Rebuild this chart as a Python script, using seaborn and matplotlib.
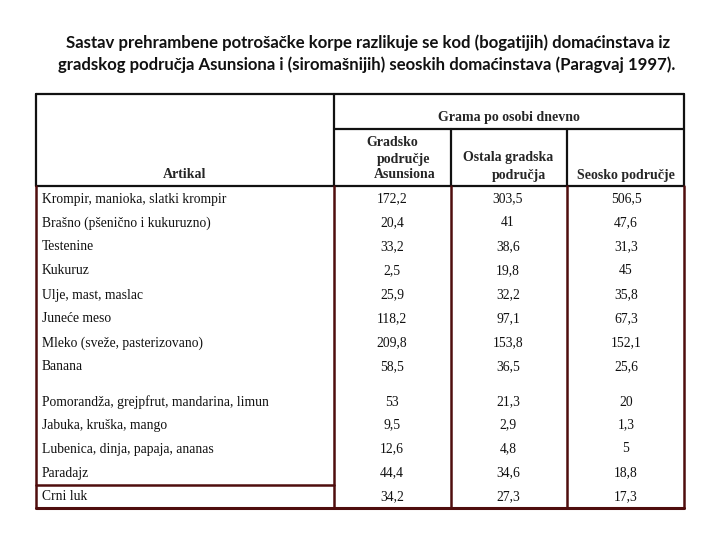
import numpy as np
import matplotlib
matplotlib.use("Agg")
import matplotlib.pyplot as plt
import seaborn as sns

# Data
title_lines = [
    "Sastav prehrambene potrošačke korpe razlikuje se kod (bogatijih) domaćinstava iz",
    "gradskog područja Asunsiona i (siromašnijih) seoskih domaćinstava (Paragvaj 1997).",
]
group_header = "Grama po osobi dnevno"
row_header = "Artikal"
articles = [
    "Krompir, manioka, slatki krompir",
    "Brašno (pšenično i kukuruzno)",
    "Testenine",
    "Kukuruz",
    "Ulje, mast, maslac",
    "Juneće meso",
    "Mleko (sveže, pasterizovano)",
    "Banana",
    "Pomorandža, grejpfrut, mandarina, limun",
    "Jabuka, kruška, mango",
    "Lubenica, dinja, papaja, ananas",
    "Paradajz",
    "Crni luk",
]
gradsko_asunsion = [172.2, 20.4, 33.2, 2.5, 25.9, 118.2, 209.8, 58.5, 53, 9.5, 12.6, 44.4, 34.2]
ostala_gradska = [303.5, 41, 38.6, 19.8, 32.2, 97.1, 153.8, 36.5, 21.3, 2.9, 4.8, 34.6, 27.3]
seosko = [506.5, 47.6, 31.3, 45, 35.8, 67.3, 152.1, 25.6, 20, 1.3, 5, 18.8, 17.3]

# Layout (pixels)
row_y = [199, 223, 247, 271, 295, 319, 343, 367, 402, 425, 449, 473, 497]
col_x = [392, 508, 626]
x_left, x_c1, x_c2, x_c3, x_right = 36, 334, 451, 567, 684
y_top, y_grp, y_head, y_bot = 94, 129, 186, 508
y_last = 485
head_col = "#111111"
body_col = "#4f0d0d"


def fmt(v):
    s = f"{v:.1f}".rstrip("0").rstrip(".")
    return s.replace(".", ",")


sns.set_theme(style="white")
plt.rcParams['font.family'] = ['Liberation Serif', 'DejaVu Serif']

fig = plt.figure(figsize=(7.2, 5.4), dpi=100)
ax = fig.add_axes([0, 0, 1, 1])
ax.set_xlim(0, 720)
ax.set_ylim(540, 0)
ax.axis("off")

# title
ax.text(368, 43, title_lines[0], ha="center", va="center", fontsize=12.1,
        fontweight="bold", family=["Lato", "DejaVu Sans"], color="#111111")
ax.text(367, 65, title_lines[1], ha="center", va="center", fontsize=12.1,
        fontweight="bold", family=["Lato", "DejaVu Sans"], color="#111111")

# header lines
lw_h = 1.6
ax.plot([x_left, x_right], [y_top, y_top], color=head_col, lw=lw_h)
ax.plot([x_left, x_right], [y_head, y_head], color=head_col, lw=lw_h)
ax.plot([x_c1, x_right], [y_grp, y_grp], color=head_col, lw=lw_h)
for x in [x_left, x_c1, x_right]:
    ax.plot([x, x], [y_top, y_head], color=head_col, lw=lw_h)
for x in [x_c2, x_c3]:
    ax.plot([x, x], [y_grp, y_head], color=head_col, lw=lw_h)

# body lines
lw_b = 1.8
for x in [x_left, x_c1, x_c2, x_c3, x_right]:
    ax.plot([x, x], [y_head, y_bot], color=body_col, lw=lw_b)
ax.plot([x_left, x_right], [y_bot, y_bot], color=body_col, lw=2.2)
ax.plot([x_left, x_c1], [y_last, y_last], color=body_col, lw=lw_b)

# header text
hs = 10
ax.text((x_c1 + x_right) / 2, 117, group_header, ha="center", va="center", fontsize=hs, fontweight="bold")
ax.text(185, 175, row_header, ha="center", va="center", fontsize=hs, fontweight="bold")
ax.text(392, 143, "Gradsko", ha="center", va="center", fontsize=hs, fontweight="bold")
ax.text(404, 159, "područje", ha="center", va="center", fontsize=hs, fontweight="bold")
ax.text(405, 175, "Asunsiona", ha="center", va="center", fontsize=hs, fontweight="bold")
ax.text(508, 158, "Ostala gradska", ha="center", va="center", fontsize=hs, fontweight="bold")
ax.text(519, 175, "područja", ha="center", va="center", fontsize=hs, fontweight="bold")
ax.text(626, 175, "Seosko područje", ha="center", va="center", fontsize=hs, fontweight="bold")

# body text
bs = 9.8
for i, name in enumerate(articles):
    y = row_y[i]
    ax.text(42, y, name, ha="left", va="center", fontsize=bs, color="#111111")
    for x, col in zip(col_x, [gradsko_asunsion, ostala_gradska, seosko]):
        ax.text(x, y, fmt(col[i]), ha="center", va="center", fontsize=bs, color="#111111")

fig.savefig("out.png", dpi=100)
